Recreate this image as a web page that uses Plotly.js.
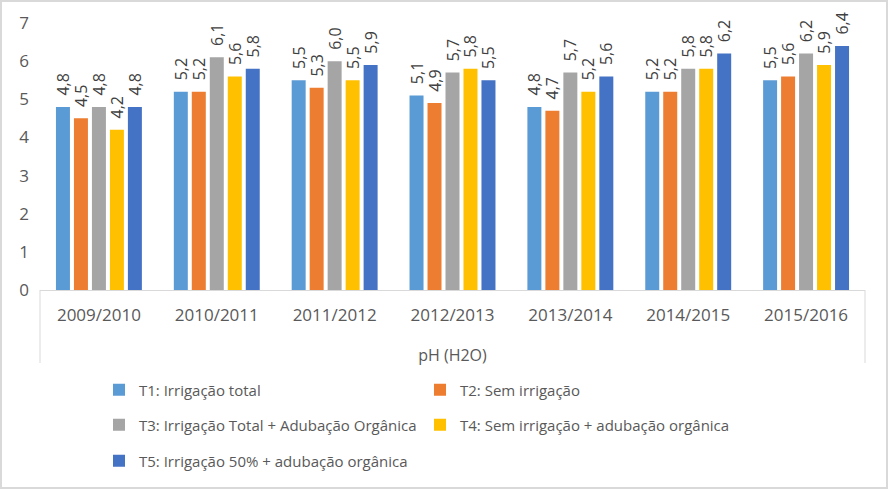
<!DOCTYPE html>
<html>
<head>
<meta charset="utf-8">
<script src="https://cdn.plot.ly/plotly-3.0.1.min.js"></script>
<style>
  html, body { margin:0; padding:0; background:#fff; }
  #wrap { position:relative; width:888px; height:489px; }
  #chart { width:888px; height:489px; }
  #frame { position:absolute; left:0; top:0; width:888px; height:489px; box-sizing:border-box; border:2px solid #d9d9d9; pointer-events:none; }
</style>
</head>
<body>
<div id="wrap"><div id="chart"></div><div id="frame"></div></div>
<script>
const categories = ["2009/2010","2010/2011","2011/2012","2012/2013","2013/2014","2014/2015","2015/2016"];
const seriesNames = [
  "T1: Irrigação total",
  "T2: Sem irrigação",
  "T3: Irrigação Total + Adubação Orgânica",
  "T4: Sem irrigação + adubação orgânica",
  "T5: Irrigação 50% + adubação orgânica"
];
const t1 = [4.8, 5.2, 5.5, 5.1, 4.8, 5.2, 5.5];
const t2 = [4.5, 5.2, 5.3, 4.9, 4.7, 5.2, 5.6];
const t3 = [4.8, 6.1, 6.0, 5.7, 5.7, 5.8, 6.2];
const t4 = [4.2, 5.6, 5.5, 5.8, 5.2, 5.8, 5.9];
const t5 = [4.8, 5.8, 5.9, 5.5, 5.6, 6.2, 6.4];
const yTicks = [0,1,2,3,4,5,6,7];
const axisTitle = "pH (H2O)";

const colors = ["#5B9BD5","#ED7D31","#A5A5A5","#FFC000","#4472C4"];
const legendIds = ["legend","legend","legend2","legend2","legend3"];
const FONT = "Open Sans, sans-serif";

const allSeries = [t1,t2,t3,t4,t5];
const traces = allSeries.map((vals,i) => ({
  type: "bar",
  name: seriesNames[i],
  x: categories,
  y: vals,
  marker: { color: colors[i] },
  text: vals.map(v => "\u00A0\u00A0" + v.toFixed(1).replace(".", ",")),
  textposition: "outside",
  textangle: -90,
  constraintext: "none",
  cliponaxis: false,
  textfont: { family: FONT, size: 16, color: "#404040" },
  legend: legendIds[i],
  hoverinfo: "skip"
}));

const L = 40, R = 23, T = 23, B = 199;
const plotH = 489 - T - B, plotW = 888 - L - R;
const py = p => (489 - B - p) / plotH;
const px = p => (p - L) / plotW;

const legendCommon = {
  orientation: "h", xanchor: "left", yanchor: "middle",
  font: { family: FONT, size: 15, color: "#595959" },
  bgcolor: "rgba(0,0,0,0)", entrywidth: 276, entrywidthmode: "pixels",
  traceorder: "normal"
};

const layout = {
  width: 888, height: 489,
  margin: { l: L, r: R, t: T, b: B },
  paper_bgcolor: "#fff", plot_bgcolor: "#fff",
  barmode: "group", bargap: 0.237, bargroupgap: 0.222,
  showlegend: true,
  font: { family: FONT, color: "#595959" },
  xaxis: {
    type: "category", tickfont: { family: FONT, size: 17, color: "#595959" },
    showline: true, linecolor: "#d9d9d9", linewidth: 1, ticks: "",
    ticklabelstandoff: 10,
    showgrid: false, zeroline: false,
    title: { text: axisTitle, font: { family: FONT, size: 16, color: "#595959" }, standoff: 24 }
  },
  yaxis: {
    range: [0, 7], tickvals: yTicks, showgrid: false, zeroline: false, showline: false,
    tickfont: { family: FONT, size: 17, color: "#595959" }, ticks: "", ticklen: 0,
    ticklabelstandoff: 10
  },
  legend: Object.assign({}, legendCommon, { x: px(99), y: py(390) }),
  legend2: Object.assign({}, legendCommon, { x: px(99), y: py(425) }),
  legend3: Object.assign({}, legendCommon, { x: px(99), y: py(461) }),
  shapes: [
    { type: "line", xref: "paper", yref: "paper", x0: 0, x1: 0, y0: 0, y1: py(363), line: { color: "#d9d9d9", width: 1 } },
    { type: "line", xref: "paper", yref: "paper", x0: 1, x1: 1, y0: 0, y1: py(363), line: { color: "#d9d9d9", width: 1 } }
  ]
};

Plotly.newPlot("chart", traces, layout, { displayModeBar: false, staticPlot: true });
</script>
</body>
</html>
